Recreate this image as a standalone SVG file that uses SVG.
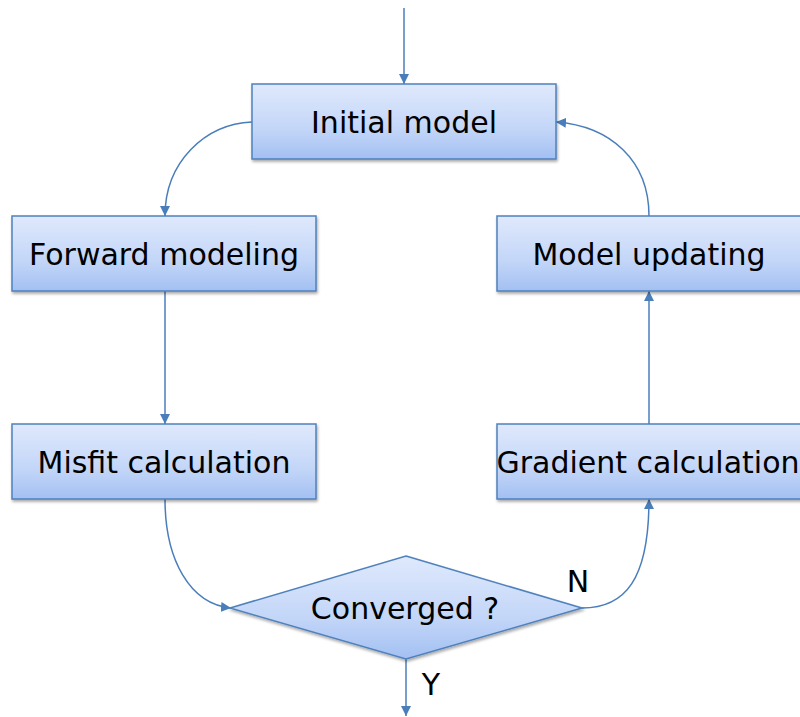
<svg xmlns="http://www.w3.org/2000/svg" width="800" height="717" viewBox="0 0 800 717">
  <defs>
    <linearGradient id="boxFill" x1="0" y1="0" x2="0" y2="1">
      <stop offset="0" stop-color="#dfe9fc"/>
      <stop offset="0.6" stop-color="#c3d6f8"/>
      <stop offset="1" stop-color="#a3c0f2"/>
    </linearGradient>
    <filter id="shadow" x="-5%" y="-5%" width="115%" height="130%">
      <feGaussianBlur in="SourceAlpha" stdDeviation="1.5"/>
      <feOffset dx="1" dy="2" result="b"/>
      <feComponentTransfer><feFuncA type="linear" slope="0.35"/></feComponentTransfer>
      <feMerge><feMergeNode/><feMergeNode in="SourceGraphic"/></feMerge>
    </filter>
    <marker id="arrow" viewBox="0 0 10 10" refX="10" refY="5" markerWidth="10" markerHeight="10" markerUnits="userSpaceOnUse" orient="auto">
      <path d="M0,0 L10,5 L0,10 z" fill="#4a7ebb"/>
    </marker>
  </defs>
  <style>
    .box { fill: url(#boxFill); stroke: #4f81bd; stroke-width: 1.5; filter: url(#shadow); }
    .label { font-family: "DejaVu Sans", Verdana, sans-serif; font-size: 30px; fill: #000; text-anchor: middle; }
    .conn { fill: none; stroke: #4a7ebb; stroke-width: 1.5; marker-end: url(#arrow); }
  </style>

  <g id="connectors">
    <path class="conn" d="M404,8 L404,84"/>
    <path class="conn" d="M252,122 C205,124 165,162 165,216"/>
    <path class="conn" d="M165,291 L165,424"/>
    <path class="conn" d="M165,499 C165,560 190,604 231,608"/>
    <path class="conn" d="M582,608 C625,608 649,580 649,499"/>
    <path class="conn" d="M649,424 L649,291"/>
    <path class="conn" d="M649,216 C649,160 610,126 556,122"/>
    <path class="conn" d="M406,659 L406,716"/>
  </g>

  <g id="initial-model">
    <rect class="box" x="252" y="84" width="304" height="75"/>
    <text class="label" x="404" y="133">Initial model</text>
  </g>
  <g id="forward-modeling">
    <rect class="box" x="12" y="216" width="304" height="75"/>
    <text class="label" x="164" y="265">Forward modeling</text>
  </g>
  <g id="model-updating">
    <rect class="box" x="497" y="216" width="304" height="75"/>
    <text class="label" x="649" y="265">Model updating</text>
  </g>
  <g id="misfit-calculation">
    <rect class="box" x="12" y="424" width="304" height="75"/>
    <text class="label" x="164" y="473">Misfit calculation</text>
  </g>
  <g id="gradient-calculation">
    <rect class="box" x="497" y="424" width="304" height="75"/>
    <text class="label" x="648" y="473">Gradient calculation</text>
  </g>
  <g id="converged">
    <polygon class="box" points="406,556 582,608 406,659 230,608"/>
    <text class="label" x="405" y="619">Converged ?</text>
  </g>
  <g id="branch-labels">
    <text class="label" x="578" y="592">N</text>
    <text class="label" x="431" y="695">Y</text>
  </g>
</svg>
